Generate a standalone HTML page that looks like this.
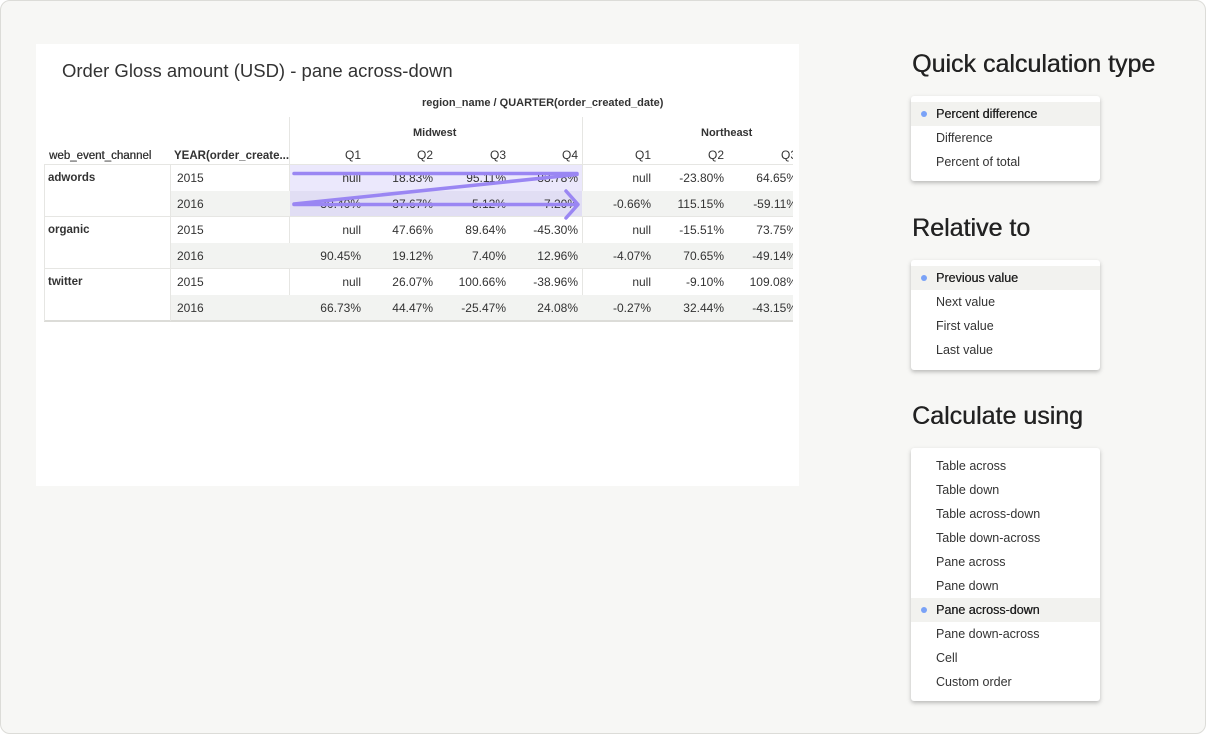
<!DOCTYPE html>
<html><head><meta charset="utf-8"><style>
*{margin:0;padding:0;box-sizing:border-box}
body{width:1206px;height:734px;background:#fff;font-family:"Liberation Sans",sans-serif;position:relative;overflow:hidden}
#frame{position:absolute;left:0;top:0;width:1206px;height:734px;background:#f7f7f5;border:1px solid #dcdcd8;border-radius:10px}
#panel{position:absolute;left:36px;top:44px;width:763px;height:442px;background:#fff}
.a{position:absolute;white-space:nowrap}
.t{font-size:12px;color:#333;line-height:26px}
.r{width:90px;text-align:right}
.h{font-size:11px;color:#333;font-weight:bold}
.menu{position:absolute;left:911px;width:189px;background:#fff;border-radius:3px;box-shadow:0 2px 4px rgba(0,0,0,.25);padding-top:6px}
.menu div{height:24px;line-height:24px;padding-left:25px;font-size:12.5px;color:#333;position:relative}
.menu div.s{background:#f2f2ef;color:#222;text-shadow:0.3px 0 0 #222}
.menu div.s:before{content:"";position:absolute;left:10px;top:9px;width:6px;height:6px;border-radius:3px;background:#7aa2f7}
.hd{position:absolute;left:912px;font-size:25px;color:#222;text-shadow:0.4px 0 0 #222}
</style></head><body>
<div id="frame"></div>
<div id="panel">
<div style="position:absolute;left:0;top:0;width:757px;height:442px;overflow:hidden">
<div class="a" style="left:26px;top:16px;font-size:18.5px;color:#333">Order Gloss amount (USD) - pane across-down</div>
<div class="a h" style="left:386px;top:53px">region_name / QUARTER(order_created_date)</div>
<div class="a h" style="left:377px;top:83px">Midwest</div>
<div class="a h" style="left:665px;top:83px">Northeast</div>
<div class="a" style="left:253px;top:73px;width:1px;height:204px;background:#e6e6e3"></div>
<div class="a" style="left:546px;top:73px;width:1px;height:204px;background:#e6e6e3"></div>
<div class="a h" style="left:13px;top:106px;font-size:11.5px;font-weight:normal;text-shadow:0.3px 0 0 #333">web_event_channel</div>
<div class="a h" style="left:138px;top:106px;font-size:11.5px">YEAR(order_create...</div>
<div class="a t r" style="left:235px;top:98px">Q1</div>
<div class="a t r" style="left:307px;top:98px">Q2</div>
<div class="a t r" style="left:380px;top:98px">Q3</div>
<div class="a t r" style="left:452px;top:98px">Q4</div>
<div class="a t r" style="left:525px;top:98px">Q1</div>
<div class="a t r" style="left:598px;top:98px">Q2</div>
<div class="a t r" style="left:671px;top:98px">Q3</div>
<div class="a" style="left:134px;top:147px;width:630px;height:26px;background:#f2f3f1"></div>
<div class="a" style="left:134px;top:199px;width:630px;height:26px;background:#f2f3f1"></div>
<div class="a" style="left:134px;top:251px;width:630px;height:26px;background:#f2f3f1"></div>
<div class="a" style="left:254px;top:121px;width:292px;height:26px;background:#ebe8fc"></div>
<div class="a" style="left:254px;top:147px;width:292px;height:26px;background:#e1def4"></div>
<div class="a" style="left:8px;top:120px;width:760px;height:1px;background:#e6e6e3"></div>
<div class="a" style="left:8px;top:172px;width:760px;height:1px;background:#e6e6e3"></div>
<div class="a" style="left:8px;top:224px;width:760px;height:1px;background:#e6e6e3"></div>
<div class="a" style="left:8px;top:276px;width:760px;height:2px;background:#dcdcd8"></div>
<div class="a" style="left:8px;top:120px;width:1px;height:157px;background:#e6e6e3"></div>
<div class="a" style="left:134px;top:120px;width:1px;height:157px;background:#e6e6e3"></div>
<div class="a t" style="left:12px;top:121px;font-weight:bold;font-size:11.5px">adwords</div>
<div class="a t" style="left:12px;top:173px;font-weight:bold;font-size:11.5px">organic</div>
<div class="a t" style="left:12px;top:225px;font-weight:bold;font-size:11.5px">twitter</div>
<div class="a t" style="left:141px;top:121px">2015</div>
<div class="a t" style="left:141px;top:147px">2016</div>
<div class="a t" style="left:141px;top:173px">2015</div>
<div class="a t" style="left:141px;top:199px">2016</div>
<div class="a t" style="left:141px;top:225px">2015</div>
<div class="a t" style="left:141px;top:251px">2016</div>
<div class="a t r" style="left:235px;top:121px">null</div><div class="a t r" style="left:307px;top:121px">18.83%</div><div class="a t r" style="left:380px;top:121px">95.11%</div><div class="a t r" style="left:452px;top:121px">83.78%</div><div class="a t r" style="left:525px;top:121px">null</div><div class="a t r" style="left:598px;top:121px">-23.80%</div><div class="a t r" style="left:671px;top:121px">64.65%</div>
<div class="a t r" style="left:235px;top:147px">30.40%</div><div class="a t r" style="left:307px;top:147px">37.67%</div><div class="a t r" style="left:380px;top:147px">5.12%</div><div class="a t r" style="left:452px;top:147px">7.20%</div><div class="a t r" style="left:525px;top:147px">-0.66%</div><div class="a t r" style="left:598px;top:147px">115.15%</div><div class="a t r" style="left:671px;top:147px">-59.11%</div>
<div class="a t r" style="left:235px;top:173px">null</div><div class="a t r" style="left:307px;top:173px">47.66%</div><div class="a t r" style="left:380px;top:173px">89.64%</div><div class="a t r" style="left:452px;top:173px">-45.30%</div><div class="a t r" style="left:525px;top:173px">null</div><div class="a t r" style="left:598px;top:173px">-15.51%</div><div class="a t r" style="left:671px;top:173px">73.75%</div>
<div class="a t r" style="left:235px;top:199px">90.45%</div><div class="a t r" style="left:307px;top:199px">19.12%</div><div class="a t r" style="left:380px;top:199px">7.40%</div><div class="a t r" style="left:452px;top:199px">12.96%</div><div class="a t r" style="left:525px;top:199px">-4.07%</div><div class="a t r" style="left:598px;top:199px">70.65%</div><div class="a t r" style="left:671px;top:199px">-49.14%</div>
<div class="a t r" style="left:235px;top:225px">null</div><div class="a t r" style="left:307px;top:225px">26.07%</div><div class="a t r" style="left:380px;top:225px">100.66%</div><div class="a t r" style="left:452px;top:225px">-38.96%</div><div class="a t r" style="left:525px;top:225px">null</div><div class="a t r" style="left:598px;top:225px">-9.10%</div><div class="a t r" style="left:671px;top:225px">109.08%</div>
<div class="a t r" style="left:235px;top:251px">66.73%</div><div class="a t r" style="left:307px;top:251px">44.47%</div><div class="a t r" style="left:380px;top:251px">-25.47%</div><div class="a t r" style="left:452px;top:251px">24.08%</div><div class="a t r" style="left:525px;top:251px">-0.27%</div><div class="a t r" style="left:598px;top:251px">32.44%</div><div class="a t r" style="left:671px;top:251px">-43.15%</div>
<svg class="a" style="left:0;top:0" width="763" height="442">
<g stroke="#9a86f3" stroke-width="3.5" fill="none" stroke-linecap="round" stroke-linejoin="round">
<line x1="258" y1="129.5" x2="541" y2="129.5"/>
<line x1="258" y1="160" x2="541" y2="130.5"/>
<line x1="258" y1="160.5" x2="541" y2="160.5"/>
<polyline points="530,147 542,160.5 530,174"/>
</g></svg>
</div>
</div>
<div class="hd" style="top:50px">Quick calculation type</div>
<div class="menu" style="top:96px;height:85px"><div class="s">Percent difference</div><div>Difference</div><div>Percent of total</div></div>
<div class="hd" style="top:214px">Relative to</div>
<div class="menu" style="top:260px;height:110px"><div class="s">Previous value</div><div>Next value</div><div>First value</div><div>Last value</div></div>
<div class="hd" style="top:402px">Calculate using</div>
<div class="menu" style="top:448px;height:253px"><div>Table across</div><div>Table down</div><div>Table across-down</div><div>Table down-across</div><div>Pane across</div><div>Pane down</div><div class="s">Pane across-down</div><div>Pane down-across</div><div>Cell</div><div>Custom order</div></div>
</body></html>
